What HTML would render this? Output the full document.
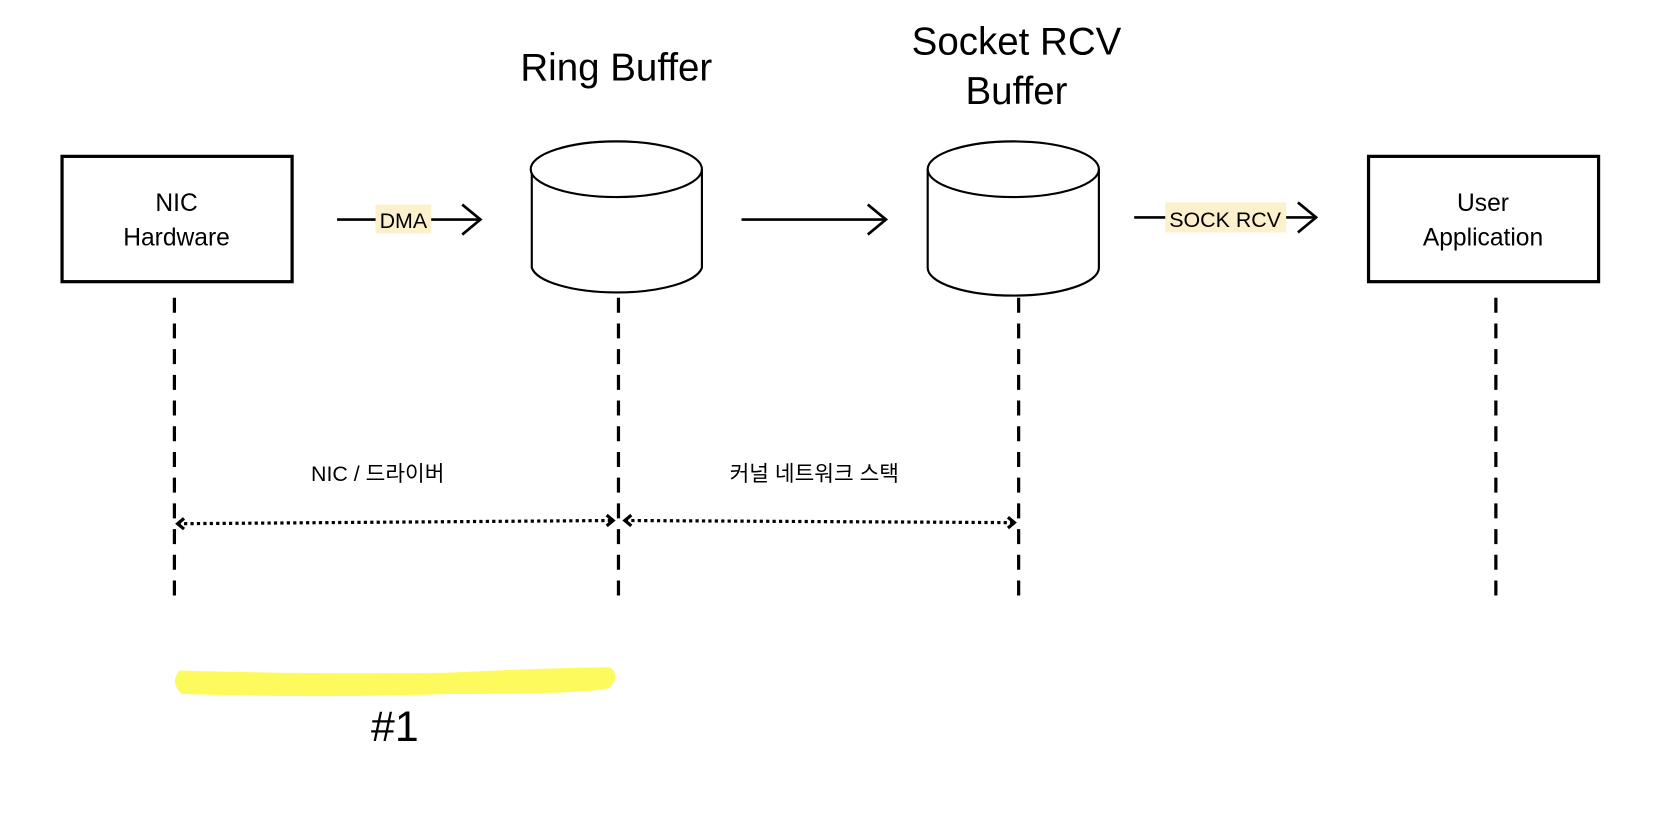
<!DOCTYPE html>
<html><head><meta charset="utf-8"><style>
body{margin:0;background:#fff;}
svg text{font-family:"Liberation Sans","Noto Sans CJK KR",sans-serif;fill:#000;}
</style></head><body>
<svg width="1678" height="822" viewBox="0 0 1678 822" xmlns="http://www.w3.org/2000/svg">
<rect width="1678" height="822" fill="#fff"/>
<g transform="scale(1.07,1.071)">
<text x="576" y="75" font-size="36" text-anchor="middle">Ring Buffer</text>
<text x="950" y="51" font-size="36" text-anchor="middle">Socket RCV</text>
<text x="950" y="97" font-size="36" text-anchor="middle">Buffer</text>
<rect x="58" y="146" width="215" height="117" fill="none" stroke="#000" stroke-width="3"/>
<text x="165" y="197" font-size="23" text-anchor="middle">NIC</text>
<text x="165" y="229" font-size="23" text-anchor="middle">Hardware</text>
<rect x="1279" y="146" width="215" height="117" fill="none" stroke="#000" stroke-width="3"/>
<text x="1386" y="197" font-size="23" text-anchor="middle">User</text>
<text x="1386" y="229" font-size="23" text-anchor="middle">Application</text>
<g fill="#fff" stroke="#000" stroke-width="2">
<path d="M497 158 L497 250 A80 26 0 0 0 656 250 L656 158"/>
<ellipse cx="576" cy="158" rx="80" ry="26"/>
<path d="M867 158 L867 250 A80 26 0 0 0 1027 250 L1027 158"/>
<ellipse cx="947" cy="158" rx="80" ry="26"/>
</g>
<g stroke="#000" stroke-width="2.5" fill="none">
<line x1="315" y1="205" x2="448" y2="205"/><path d="M432 191 L449 205 L432 219"/>
<line x1="693" y1="205" x2="827" y2="205"/><path d="M811 191 L828 205 L811 219"/>
<line x1="1060" y1="203" x2="1229" y2="203"/><path d="M1213 189 L1230 203 L1213 217"/>
</g>
<rect x="351" y="191" width="52" height="27" fill="#fdf0cc"/>
<text x="377" y="213" font-size="20" text-anchor="middle">DMA</text>
<rect x="1089" y="189" width="113" height="28" fill="#fdf0cc"/>
<text x="1145" y="212" font-size="20" text-anchor="middle">SOCK RCV</text>
<g stroke="#000" stroke-width="3" stroke-dasharray="14,10">
<line x1="163" y1="278" x2="163" y2="565"/>
<line x1="578" y1="278" x2="578" y2="565"/>
<line x1="952" y1="278" x2="952" y2="565"/>
<line x1="1398" y1="278" x2="1398" y2="565"/>
</g>
<g stroke="#000" stroke-width="3" fill="none">
<line x1="166" y1="489" x2="572" y2="486" stroke-dasharray="3,3"/>
<path d="M172 484 L166 489 L172 494"/><path d="M567 481 L573 486 L567 491"/>
<line x1="584" y1="486" x2="948" y2="488" stroke-dasharray="3,3"/>
<path d="M590 481 L584 486 L590 491"/><path d="M942 483 L948 488 L942 493"/>
</g>
<text x="353" y="449" font-size="20" text-anchor="middle">NIC / 드라이버</text>
<text x="761" y="449" font-size="20" text-anchor="middle">커널 네트워크 스택</text>
<path d="M168 626 Q300 630 420 628 Q500 624 570 623 Q580 630 570 642 Q555 648 420 648 Q300 652 170 648 Q158 637 168 626Z" fill="#fdfa5e"/>
<text x="369" y="692" font-size="40" text-anchor="middle">#1</text>
</g>
</svg>
</body></html>
